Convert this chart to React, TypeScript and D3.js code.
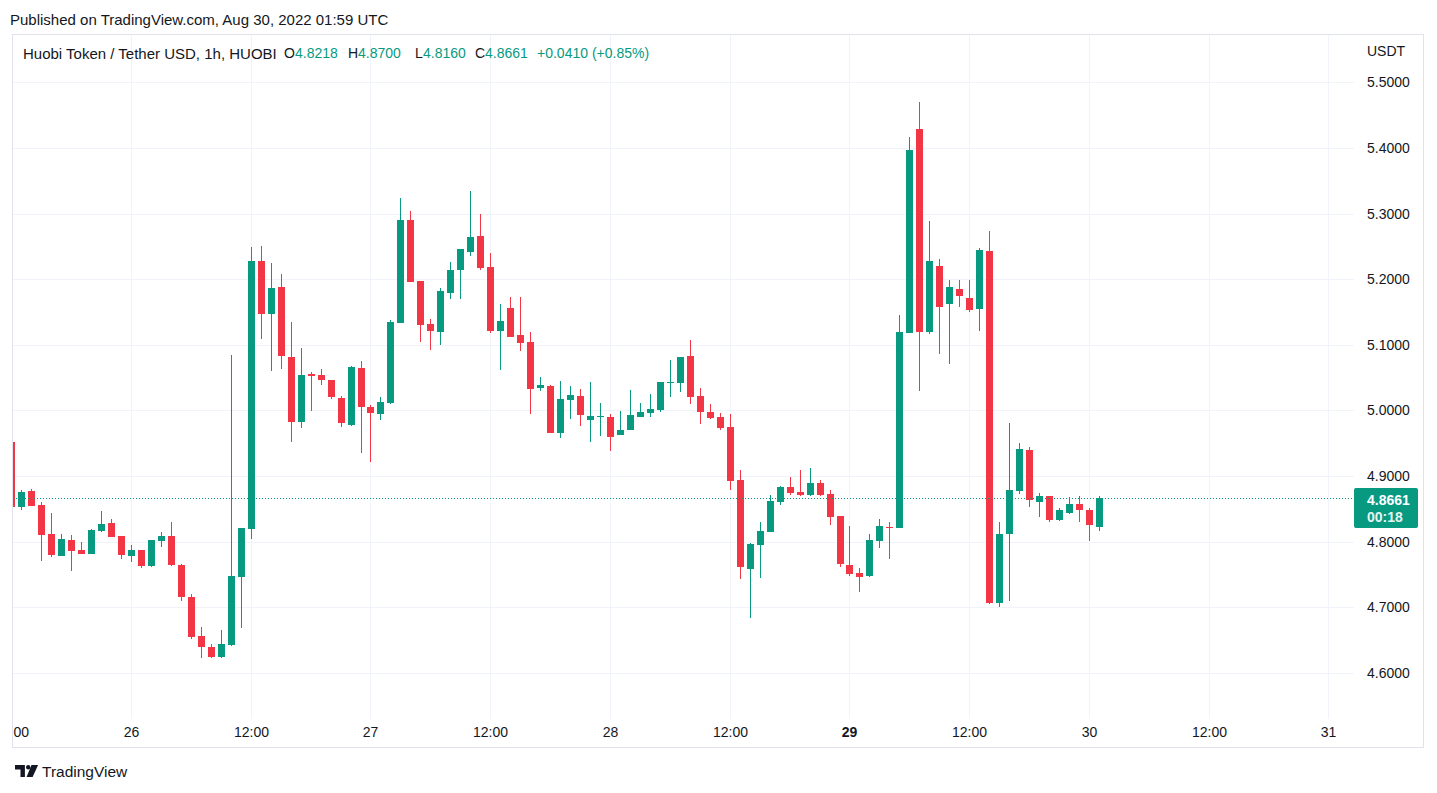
// HT/USDT hourly candles (TradingView snapshot)
import React, { useEffect, useRef } from 'react';
import * as d3 from 'd3';

const firstCandle = Date.UTC(2022, 7, 25, 12);
const hour = 3600 * 1000;

const opens: number[] = [
  4.9518, 4.8532, 4.8771, 4.8558, 4.8116, 4.7780, 4.8024, 4.7872, 4.7811, 4.8162,
  4.8284, 4.8085, 4.7780, 4.7872, 4.7628, 4.8009, 4.8085, 4.7643, 4.7155, 4.6561,
  4.6398, 4.6245, 4.6424, 4.7465, 4.8197, 5.2277, 5.1474, 5.1881, 5.0814, 4.9828,
  5.0560, 5.0540, 5.0463, 5.0189, 4.9782, 5.0646, 5.0052, 4.9950, 5.0117, 5.1337,
  5.2902, 5.1973, 5.1317, 5.1200, 5.1794, 5.2145, 5.2419, 5.2659, 5.2186, 5.1215,
  5.1561, 5.1149, 5.1043, 5.0346, 5.0372, 4.9660, 5.0159, 5.0220, 4.9858, 4.9905,
  4.9900, 4.9630, 4.9706, 4.9904, 4.9965, 5.0011, 5.0422, 5.0422, 5.0829, 5.0220,
  4.9976, 4.9900, 4.9747, 4.8939, 4.7587, 4.7953, 4.8151, 4.8608, 4.8832, 4.8756,
  4.8715, 4.8893, 4.8726, 4.8390, 4.7648, 4.7526, 4.7480, 4.8014, 4.8223, 4.8212,
  5.1173, 5.4284, 5.1189, 5.2205, 5.1617, 5.1854, 5.1720, 5.1546, 5.2433, 4.7067,
  4.8111, 4.8764, 4.9391, 4.8600, 4.8702, 4.8325, 4.8432, 4.8580, 4.8488, 4.8218,
];
const highs: number[] = [
  4.9518, 4.8787, 4.8802, 4.8608, 4.8441, 4.8116, 4.8100, 4.7994, 4.8192, 4.8466,
  4.8345, 4.8085, 4.7948, 4.7872, 4.8024, 4.8146, 4.8299, 4.7659, 4.7201, 4.6703,
  4.6439, 4.6652, 5.0845, 4.8207, 5.2495, 5.2511, 5.2247, 5.2079, 5.1348, 5.0951,
  5.0585, 5.0631, 5.0463, 5.0220, 5.0677, 5.0753, 5.0078, 5.0204, 5.1378, 5.3238,
  5.3040, 5.1973, 5.1393, 5.1866, 5.2262, 5.2460, 5.3345, 5.2994, 5.2399, 5.1622,
  5.1729, 5.1729, 5.1195, 5.0509, 5.0387, 5.0448, 5.0372, 5.0326, 5.0433, 5.0113,
  4.9945, 4.9991, 5.0311, 5.0113, 5.0250, 5.0433, 5.0768, 5.0814, 5.1073, 5.0341,
  5.0098, 4.9960, 4.9945, 4.9091, 4.7979, 4.8299, 4.8710, 4.8848, 4.8985, 4.9091,
  4.9122, 4.8939, 4.8787, 4.8390, 4.8238, 4.7602, 4.8120, 4.8349, 4.8303, 5.1457,
  5.4175, 5.4707, 5.2891, 5.2313, 5.1993, 5.1993, 5.1993, 5.2479, 5.2739, 4.8305,
  4.9803, 4.9497, 4.9436, 4.8748, 4.8702, 4.8519, 4.8687, 4.8702, 4.8509, 4.8700,
];
const lows: number[] = [
  4.8532, 4.8482, 4.8543, 4.7704, 4.7765, 4.7780, 4.7552, 4.7811, 4.7811, 4.8146,
  4.8070, 4.7735, 4.7689, 4.7598, 4.7613, 4.7918, 4.7628, 4.7095, 4.6515, 4.6230,
  4.6230, 4.6230, 4.6409, 4.6688, 4.8044, 5.1093, 5.0605, 5.0636, 4.9523, 4.9736,
  4.9995, 5.0392, 5.0178, 4.9751, 4.9767, 4.9355, 4.9218, 4.9858, 5.0102, 5.1337,
  5.1962, 5.1047, 5.0925, 5.1002, 5.1703, 5.1703, 5.2358, 5.2145, 5.1184, 5.0620,
  5.1123, 5.0910, 4.9950, 5.0300, 4.9660, 4.9584, 4.9873, 4.9767, 4.9523, 4.9614,
  4.9386, 4.9630, 4.9706, 4.9904, 4.9904, 4.9980, 5.0209, 5.0285, 5.0102, 4.9797,
  4.9873, 4.9701, 4.8791, 4.7434, 4.6840, 4.7450, 4.8151, 4.8563, 4.8715, 4.8700,
  4.8700, 4.8700, 4.8258, 4.7617, 4.7480, 4.7236, 4.7465, 4.7907, 4.7739, 4.8212,
  5.1173, 5.0301, 5.1158, 5.0853, 5.0714, 5.1570, 5.1503, 5.1210, 4.7047, 4.7000,
  4.7102, 4.8733, 4.8524, 4.8371, 4.8295, 4.8310, 4.8417, 4.8295, 4.8004, 4.8160,
];
const closes: number[] = [
  4.8532, 4.8756, 4.8543, 4.8101, 4.7796, 4.8040, 4.7857, 4.7811, 4.8177, 4.8268,
  4.8070, 4.7796, 4.7872, 4.7628, 4.8024, 4.8085, 4.7643, 4.7155, 4.6546, 4.6398,
  4.6245, 4.6439, 4.7476, 4.8207, 5.2277, 5.1474, 5.1866, 5.0834, 4.9828, 5.0540,
  5.0529, 5.0468, 5.0209, 4.9813, 5.0662, 5.0056, 4.9965, 5.0128, 5.1348, 5.2902,
  5.1962, 5.1306, 5.1215, 5.1820, 5.2140, 5.2460, 5.2643, 5.2175, 5.1215, 5.1363,
  5.1123, 5.1032, 5.0331, 5.0387, 4.9660, 5.0174, 5.0235, 4.9934, 4.9915, 4.9915,
  4.9599, 4.9701, 4.9930, 4.9976, 5.0021, 5.0433, 5.0433, 5.0814, 5.0209, 4.9980,
  4.9889, 4.9732, 4.8928, 4.7617, 4.7963, 4.8162, 4.8619, 4.8832, 4.8745, 4.8715,
  4.8893, 4.8715, 4.8380, 4.7663, 4.7511, 4.7465, 4.8029, 4.8242, 4.8212, 5.1199,
  5.3974, 5.1189, 5.2282, 5.1570, 5.1885, 5.1741, 5.1534, 5.2449, 4.7067, 4.8121,
  4.8779, 4.9406, 4.8631, 4.8702, 4.8325, 4.8488, 4.8580, 4.8478, 4.8251, 4.8661,
];

const priceTicks = [4.6, 4.7, 4.8, 4.9, 5.0, 5.1, 5.2, 5.3, 5.4, 5.5];
const timeTickLabels = ['12:00', '26', '12:00', '27', '12:00', '28', '12:00', '29', '12:00', '30', '12:00', '31'];
const boldLabels = ['29'];

const lastPrice = 4.8661;
const countdown = '00:18';

const UP = '#089981';
const DOWN = '#F23645';
const TEXT = '#131722';
const GRID = '#f0f3fa';
const FONT = "'Liberation Sans', Arial, sans-serif";

const App: React.FC = () => {
  const svgRef = useRef<SVGSVGElement>(null);

  useEffect(() => {
    if (!svgRef.current) return;
    const svg = d3.select(svgRef.current);
    svg.selectAll('*').remove();

    const width = 1437;
    const height = 793;
    const plot = { left: 13, top: 35, right: 1354, bottom: 719 };

    svg.attr('width', width).attr('height', height);
    svg.append('rect').attr('width', width).attr('height', height).attr('fill', '#ffffff');

    const x = d3.scaleUtc()
      .domain([new Date(firstCandle), new Date(Date.UTC(2022, 7, 31, 0))])
      .range([11.75, 1328.98]);
    const y = d3.scaleLinear().domain([4.6, 5.5]).range([672.8, 82.4]);

    const clipId = 'plot-clip';
    const defs = svg.append('defs');
    defs.append('clipPath').attr('id', clipId)
      .append('rect')
      .attr('x', plot.left).attr('y', plot.top)
      .attr('width', plot.right - plot.left).attr('height', plot.bottom - plot.top);
    defs.append('clipPath').attr('id', 'time-clip')
      .append('rect').attr('x', 13).attr('y', 719).attr('width', 1341).attr('height', 28);

    const timeTicks = timeTickLabels.map((_, i) => new Date(firstCandle + i * 12 * hour));

    // grid
    const grid = svg.append('g').attr('clip-path', `url(#${clipId})`);
    grid.selectAll('line.h').data(priceTicks).enter().append('line')
      .attr('x1', plot.left).attr('x2', plot.right)
      .attr('y1', d => Math.round(y(d)) + 0.5).attr('y2', d => Math.round(y(d)) + 0.5)
      .attr('stroke', GRID).attr('stroke-width', 1);
    grid.selectAll('line.v').data(timeTicks).enter().append('line')
      .attr('x1', d => Math.floor(x(d)) + 0.5).attr('x2', d => Math.floor(x(d)) + 0.5)
      .attr('y1', plot.top).attr('y2', plot.bottom)
      .attr('stroke', GRID).attr('stroke-width', 1);

    // candles
    const candles = opens.map((o, i) => ({
      t: new Date(firstCandle + i * hour),
      o, h: highs[i], l: lows[i], c: closes[i],
    }));
    const cg = svg.append('g').attr('clip-path', `url(#${clipId})`);
    const candle = cg.selectAll('g.candle').data(candles).enter().append('g');
    candle.append('rect')
      .attr('x', d => Math.floor(x(d.t)))
      .attr('width', 1)
      .attr('y', d => Math.round(y(d.h)))
      .attr('height', d => Math.max(1, Math.round(y(d.l)) - Math.round(y(d.h))))
      .attr('fill', d => (d.c >= d.o ? UP : DOWN));
    candle.append('rect')
      .attr('x', d => Math.floor(x(d.t)) - 3)
      .attr('width', 7)
      .attr('y', d => Math.round(y(Math.max(d.o, d.c))))
      .attr('height', d => Math.max(1, Math.round(y(Math.min(d.o, d.c))) - Math.round(y(Math.max(d.o, d.c)))))
      .attr('fill', d => (d.c >= d.o ? UP : DOWN));

    // last price line
    const yLast = Math.round(y(lastPrice)) + 0.5;
    svg.append('line')
      .attr('x1', plot.left).attr('x2', plot.right)
      .attr('y1', yLast).attr('y2', yLast)
      .attr('stroke', UP).attr('stroke-width', 1)
      .attr('stroke-dasharray', '1,2');

    // pane border
    svg.append('rect')
      .attr('x', 12.5).attr('y', 34.5).attr('width', 1411).attr('height', 713)
      .attr('fill', 'none').attr('stroke', '#e0e3eb').attr('stroke-width', 1);

    // price axis
    svg.append('text')
      .attr('x', 1367).attr('y', 51)
      .attr('dominant-baseline', 'central')
      .style('font-family', FONT).style('font-size', '14px').style('fill', TEXT)
      .text('USDT');
    svg.selectAll('text.price').data(priceTicks).enter().append('text')
      .attr('x', 1367).attr('y', d => y(d))
      .attr('dominant-baseline', 'central')
      .style('font-family', FONT).style('font-size', '14px').style('fill', TEXT)
      .text(d => d3.format('.4f')(d));

    const box = svg.append('g');
    box.append('rect')
      .attr('x', 1354).attr('y', yLast - 10.5).attr('width', 64).attr('height', 40)
      .attr('rx', 2).attr('fill', UP);
    box.append('text')
      .attr('x', 1367).attr('y', yLast + 1)
      .attr('dominant-baseline', 'central')
      .style('font-family', FONT).style('font-size', '14px').style('font-weight', 'bold').style('fill', '#ffffff')
      .text(lastPrice.toFixed(4));
    box.append('text')
      .attr('x', 1367).attr('y', yLast + 18)
      .attr('dominant-baseline', 'central')
      .style('font-family', FONT).style('font-size', '14px').style('font-weight', 'bold').style('fill', '#e6f5f2')
      .text(countdown);

    // time axis (clipped to pane, first label shows as "00")
    svg.append('g').attr('clip-path', 'url(#time-clip)')
      .selectAll('text').data(timeTicks).enter().append('text')
      .attr('x', d => Math.floor(x(d)) + 0.5).attr('y', 732)
      .attr('text-anchor', 'middle').attr('dominant-baseline', 'central')
      .style('font-family', FONT).style('font-size', '14px').style('fill', TEXT)
      .style('font-weight', (_, i) => (boldLabels.includes(timeTickLabels[i]) ? 'bold' : 'normal'))
      .text((_, i) => timeTickLabels[i]);

    // legend
    const legend = svg.append('text')
      .attr('y', 53).attr('dominant-baseline', 'central')
      .style('font-family', FONT).style('font-size', '14px');
    const last = candles[candles.length - 1];
    const prevClose = candles[candles.length - 2].c;
    const change = last.c - prevClose;
    legend.append('tspan').attr('x', 23).style('font-size', '15px').style('fill', TEXT)
      .text('Huobi Token / Tether USD, 1h, HUOBI');
    const parts: [string, string, number][] = [
      ['O', TEXT, 284], [last.o.toFixed(4), UP, 295],
      ['H', TEXT, 348], [last.h.toFixed(4), UP, 358],
      ['L', TEXT, 415], [last.l.toFixed(4), UP, 423],
      ['C', TEXT, 475], [last.c.toFixed(4), UP, 485],
      [`+${change.toFixed(4)} (+${((change / prevClose) * 100).toFixed(2)}%)`, UP, 537],
    ];
    parts.forEach(([t, col, px]) => {
      legend.append('tspan').attr('x', px).style('fill', col).text(t);
    });

    // header
    svg.append('text')
      .attr('x', 10).attr('y', 19).attr('dominant-baseline', 'central')
      .style('font-family', FONT).style('font-size', '15px').style('fill', TEXT)
      .text('Published on TradingView.com, Aug 30, 2022 01:59 UTC');

    // footer logo
    const logo = svg.append('g').attr('transform', 'translate(15,765) scale(1.1)').attr('fill', TEXT);
    logo.append('path').attr('d', 'M0 0 H9 V11 H5 V4 H0 Z');
    logo.append('circle').attr('cx', 12).attr('cy', 2).attr('r', 2);
    logo.append('path').attr('d', 'M15 0 H21 L16 11 H10.5 Z');
    svg.append('text')
      .attr('x', 42).attr('y', 771).attr('dominant-baseline', 'central')
      .style('font-family', FONT).style('font-size', '15.5px').style('fill', TEXT)
      .text('TradingView');
  }, []);

  return (
    <svg
      ref={svgRef}
      style={{ position: 'absolute', left: 0, top: 0, display: 'block' }}
    />
  );
};

export default App;
